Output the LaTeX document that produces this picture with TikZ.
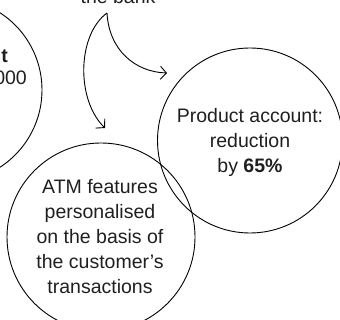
\documentclass[tikz,border=0pt]{standalone}
\usepackage{fontspec}
\setmainfont{Liberation Sans}
\usetikzlibrary{arrows.meta}
\begin{document}
\begin{tikzpicture}[x=1pt,y=-1pt,
  bubble/.style={circle,draw=black,line width=0.9pt,inner sep=0pt},
  txt/.style={font=\fontsize{19.5}{25}\selectfont,text=black!88,align=center,inner sep=0pt},
  flow/.style={line width=0.9pt,-{Straight Barb[length=6pt,width=13pt,line width=0.9pt]}}]
\useasboundingbox (0,0) rectangle (340,320);
\clip (0,0) rectangle (340,320);
% circles
\node[bubble,minimum size=184pt] (acct) at (-50,90) {};
\node[bubble,minimum size=185pt] (prod) at (250,140.5) {};
\node[bubble,minimum size=188pt] (atm) at (101,237) {};
% texts
\node[txt,anchor=base] (bank) at (118,4) {the bank};
\node[txt,anchor=base east,font=\fontsize{19.5}{25}\selectfont\bfseries] (acctA) at (8,63) {t};
\node[txt,anchor=base east] (acctB) at (27,85) {000};
\node[txt] (prodtxt) at (250,142) {Product account:\\reduction\\by \textbf{65\%}};
\node[txt] (atmtxt) at (100,237) {ATM features\\personalised\\on the basis of\\the customer’s\\transactions};
% arrows
\coordinate (src) at (107,13);
\coordinate (tipA) at (167,73);
\coordinate (tipB) at (105,128);
\draw[flow] (src) .. controls (109,50) and (135,72) .. (tipA);
\draw[flow] (src) .. controls (77,35) and (76,100) .. (tipB);
\end{tikzpicture}
\end{document}
